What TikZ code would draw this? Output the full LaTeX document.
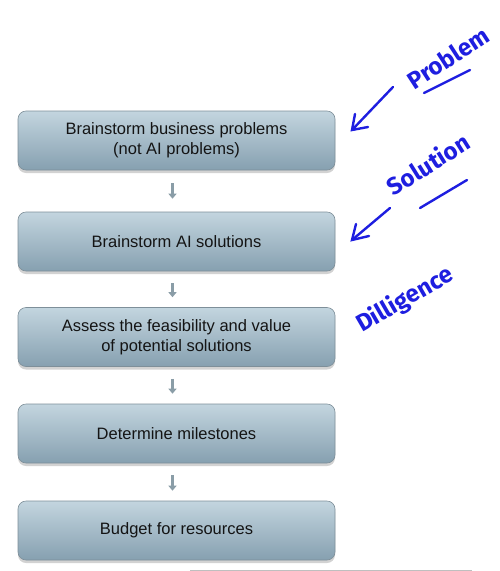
\documentclass[tikz,border=0pt]{standalone}
\usepackage{fontspec}
\setmainfont{Liberation Sans}
\newfontfamily\handfont{Fira Sans}
\usetikzlibrary{arrows.meta,shadows,calc}
\definecolor{boxtop}{HTML}{C3D5DF}
\definecolor{boxbot}{HTML}{86A0B0}
\definecolor{boxline}{HTML}{7E8F99}
\definecolor{arrgray}{HTML}{8A9DA7}
\definecolor{ink}{HTML}{1E1EE0}
\tikzset{
  stepbox/.style={rounded corners=8pt, draw=boxline, line width=0.6pt,
    top color=boxtop, bottom color=boxbot, minimum width=317pt, minimum height=59pt,
    align=center, font=\fontsize{16.5}{20}\selectfont, text=black!92,
    drop shadow={shadow xshift=0pt, shadow yshift=-3pt, opacity=0.35}},
  flowarrow/.style={draw=arrgray, line width=3.2pt,
    -{Triangle[length=5pt,width=8pt]}},
  hand/.style={text=ink, font=\handfont\bfseries\fontsize{24}{26}\selectfont},
  handline/.style={draw=ink, line width=2.4pt, line cap=round},
}
\begin{document}
\begin{tikzpicture}[x=1pt,y=-1pt]
\useasboundingbox (0,0) rectangle (500,571);
\fill[white] (0,0) rectangle (500,571);
\node[stepbox] (b1) at (176.5,140.5) {Brainstorm business problems\\(not AI problems)};
\node[stepbox] (b2) at (176.5,241.5) {Brainstorm AI solutions};
\node[stepbox] (b3) at (176.5,337) {Assess the feasibility and value\\of potential solutions};
\node[stepbox] (b4) at (176.5,433.5) {Determine milestones};
\node[stepbox] (b5) at (176.5,530.5) {Budget for resources};
\foreach \a/\b/\s/\e in {b1/b2/13/13, b2/b3/12/10, b3/b4/12/10, b4/b5/12/10}
  \draw[flowarrow, shorten <=\s pt, shorten >=\e pt] ([xshift=-4pt]\a.south) -- ([xshift=-4pt]\b.north);
% annotations
\node[hand, rotate=33] (tp) at (448,58) {Problem};
\coordinate (pa1) at (393,87);
\coordinate (pa2) at (352,130);
\draw[handline] (pa1) -- (pa2);
\draw[handline] ($(pa2)+(3,-16)$) -- (pa2) -- ($(pa2)+(16,-3)$);
\coordinate (pu1) at (424,93);
\coordinate (pu2) at (470,70);
\draw[handline] (pu1) -- (pu2);
\node[hand, rotate=32] (ts) at (428,164) {Solution};
\coordinate (sa1) at (390,208);
\coordinate (sa2) at (352,240);
\draw[handline] (sa1) -- (sa2);
\draw[handline] ($(sa2)+(4,-16)$) -- (sa2) -- ($(sa2)+(17,-4)$);
\coordinate (su1) at (420,208);
\coordinate (su2) at (467,180);
\draw[handline] (su1) -- (su2);
\node[hand, rotate=30] (td) at (405,300) {Dilligence};
\coordinate (l1) at (190,570);
\coordinate (l2) at (472,570);
\draw[black!25, line width=0.8pt] (l1) -- (l2);
\end{tikzpicture}
\end{document}
